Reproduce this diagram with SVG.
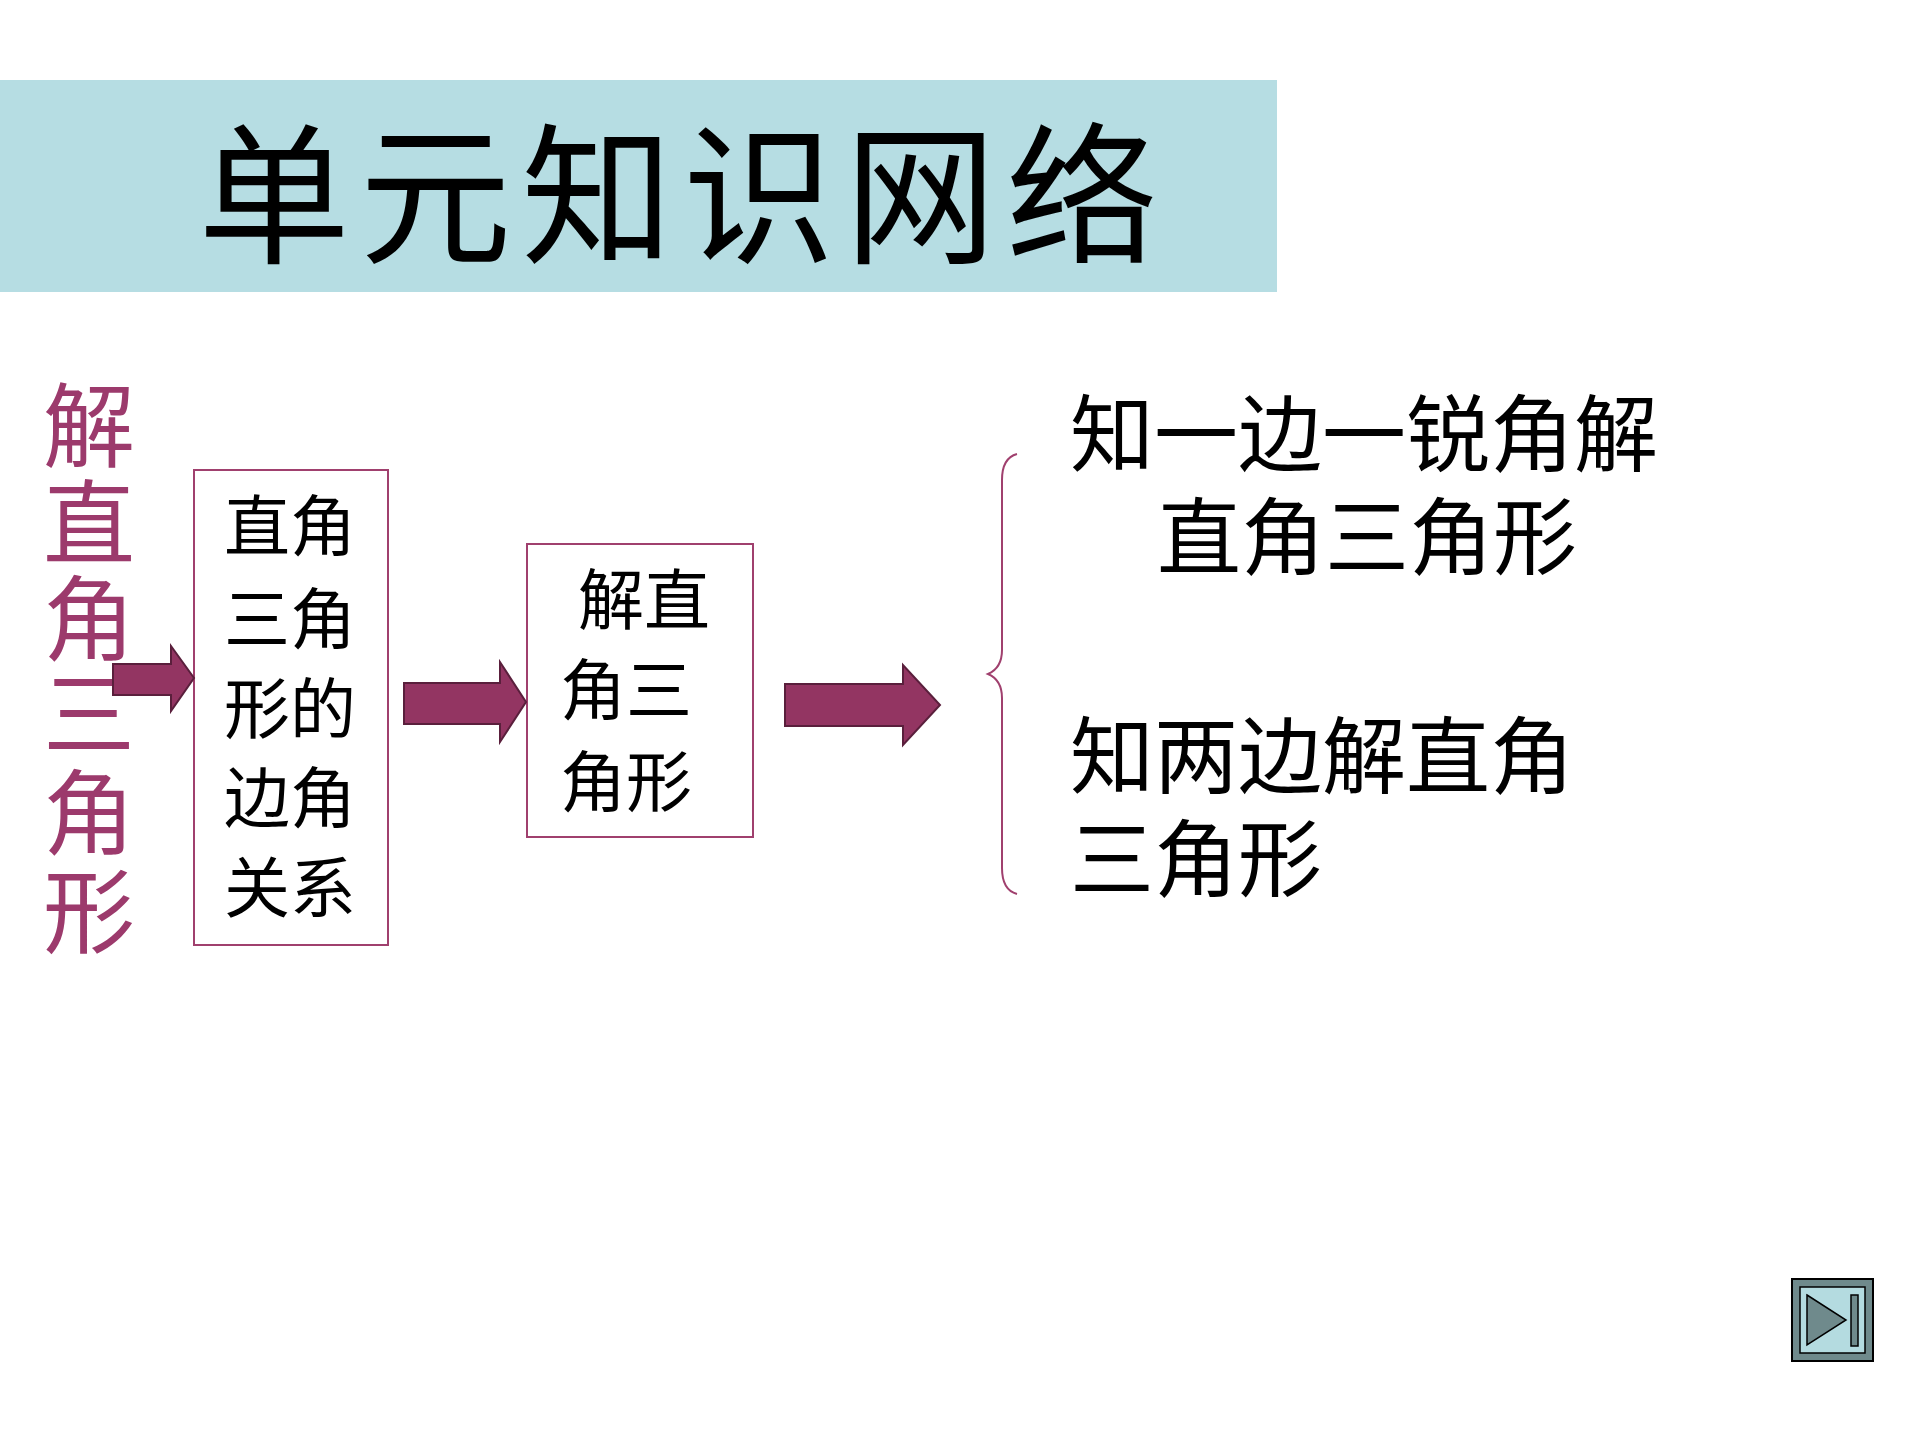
<svg xmlns="http://www.w3.org/2000/svg" width="1920" height="1440" viewBox="0 0 1920 1440">
<style>
text{font-family:"Liberation Serif","Noto Sans CJK SC",serif;fill:#000}
.p{fill:#9c3a6c;font-size:92px}
.b{font-size:66px}
.r{font-size:84px}
.box{fill:none;stroke:#a0406e;stroke-width:2}
.arr{fill:#933562;stroke:#5a1f3c;stroke-width:2}
</style>
<rect width="1920" height="1440" fill="#fff"/>
<g id="title"><rect x="0" y="80" width="1277" height="212" fill="#b6dde3"/>
<text x="198" y="252" font-size="152" textLength="960">单元知识网络</text></g>
<g id="left" class="p" text-anchor="middle">
<text class="p" x="89" y="460">解</text><text class="p" x="89" y="557">直</text><text class="p" x="89" y="653">角</text><text class="p" x="89" y="748">三</text><text class="p" x="89" y="847">角</text><text class="p" x="89" y="946">形</text></g>
<g id="box1"><rect class="box" x="194" y="470" width="194" height="475"/>
<g class="b" text-anchor="middle"><text class="b" x="290" y="550">直角</text><text class="b" x="290" y="643">三角</text><text class="b" x="290" y="733">形的</text><text class="b" x="290" y="822">边角</text><text class="b" x="290" y="912">关系</text></g></g>
<g id="box2"><rect class="box" x="527" y="544" width="226" height="293"/>
<text class="b" x="578" y="624">解直</text><text class="b" x="560" y="714">角三</text><text class="b" x="560" y="806">角形</text></g>
<g id="connectors">
<path class="arr" d="M113 664H171V646L194 678L171 711V695H113Z"/>
<path class="arr" d="M404 683H500V662L526 702L500 742V724H404Z"/>
<path class="arr" d="M785 684H903V665L940 705L903 745V726H785Z"/>
<path d="M1017 454Q1002 458 1002 480V650Q1002 668 988 674Q1002 680 1002 698V868Q1002 890 1017 894" fill="none" stroke="#a0406e" stroke-width="2"/>
</g>
<g id="right" class="r"><text class="r" x="1070" y="465">知一边一锐角解</text><text class="r" x="1157" y="568">直角三角形</text><text class="r" x="1070" y="787">知两边解直角</text><text class="r" x="1070" y="890">三角形</text></g>
<g id="button"><rect x="1792" y="1279" width="81" height="82" fill="#6f8a8c" stroke="#000" stroke-width="2"/>
<rect x="1800" y="1287" width="65" height="66" fill="#b4dbe0" stroke="#000" stroke-width="1.5"/>
<path d="M1807 1295L1846 1320L1807 1345Z" fill="#6f8a8c" stroke="#000" stroke-width="1.5"/>
<rect x="1851" y="1295" width="7" height="51" fill="#6f8a8c" stroke="#000" stroke-width="1.5"/></g>
</svg>
